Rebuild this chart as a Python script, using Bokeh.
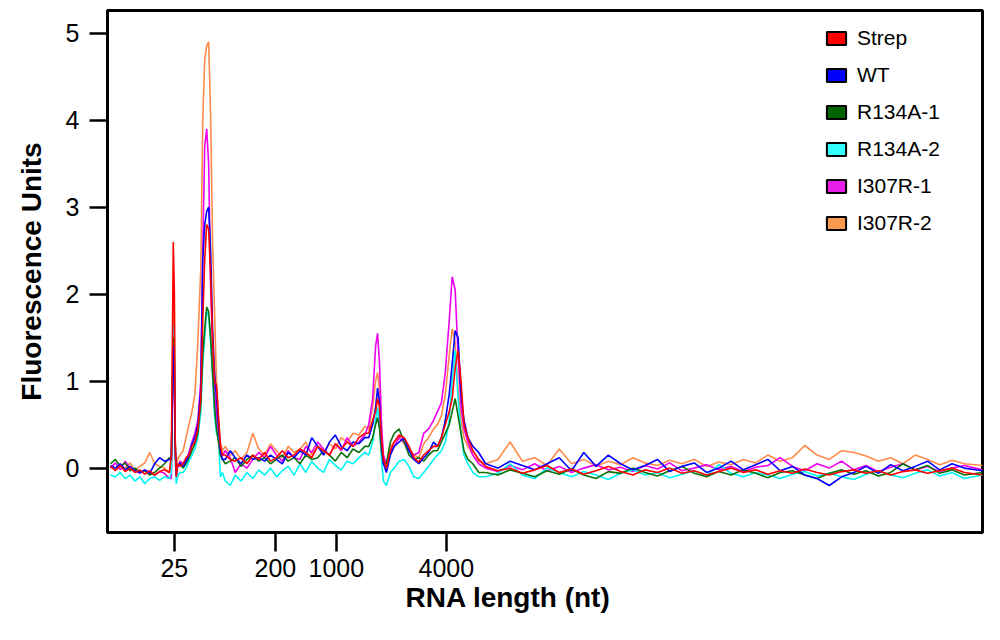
from bokeh.plotting import figure
from bokeh.models import Range1d, FixedTicker, Legend, LegendItem, Title
from bokeh.embed import file_html
from bokeh.resources import INLINE

# migration time (arbitrary units)
time_s = [
    0.3, 0.8, 1.3, 1.8, 2.3, 2.8, 3.3, 3.8, 4.3, 4.8, 5.3, 5.8, 6.3,
    6.5, 6.7, 6.8, 6.9, 7.0, 7.1, 7.2, 7.4,
    7.7, 8.0, 8.3, 8.6, 8.9, 9.2, 9.5, 9.7,
    9.9, 10.1, 10.3, 10.5, 10.7, 10.9, 11.1, 11.3, 11.5, 11.7,
    12.0, 12.5, 13.0, 13.6, 14.2, 14.8, 15.4, 16.0, 16.6, 17.2, 17.8, 18.4, 19.0,
    19.6, 20.2, 20.8, 21.4, 22.0, 22.6, 23.2, 23.8, 24.4, 25.0, 25.6, 26.2,
    26.6, 27.0, 27.3, 27.5, 27.7, 27.9, 28.1, 28.4, 28.8,
    29.2, 29.7, 30.2, 30.7, 31.2, 31.7, 32.2, 32.7, 33.2,
    33.6, 34.0, 34.4, 34.8, 35.1, 35.4, 35.7, 36.0, 36.3, 36.7, 37.2, 37.8,
    38.5, 39.75, 41.0, 42.25, 43.5, 44.75, 46.0, 47.25, 48.5, 49.75,
    51.0, 52.25, 53.5, 54.75, 56.0, 57.25, 58.5, 59.75, 61.0, 62.25,
    63.5, 64.75, 66.0, 67.25, 68.5, 69.75, 71.0, 72.25, 73.5, 74.75,
    76.0, 77.25, 78.5, 79.75, 81.0, 82.25, 83.5, 84.75, 86.0, 87.25, 89.1,
]

strep = [
    0.02, -0.03, 0.03, -0.04, 0.00, -0.05, -0.02, -0.07, -0.03, -0.08, -0.04, -0.02, -0.05,
    0.15, 2.60, 2.05, 0.30, -0.10, 0.02, 0.05, 0.02,
    0.05, 0.12, 0.15, 0.25, 0.30, 0.45, 0.80, 1.70,
    2.40, 2.80, 2.75, 2.20, 1.50, 1.00, 0.95, 0.60, 0.25, 0.15,
    0.15, 0.10, 0.08, 0.12, 0.05, 0.15, 0.10, 0.18, 0.08, 0.12, 0.20, 0.12, 0.15,
    0.22, 0.18, 0.12, 0.25, 0.20, 0.15, 0.28, 0.22, 0.30, 0.25, 0.35, 0.40,
    0.40, 0.55, 0.65, 0.80, 0.70, 0.35, 0.10, 0.00, 0.20,
    0.30, 0.38, 0.35, 0.25, 0.12, 0.07, 0.15, 0.20, 0.25,
    0.25, 0.35, 0.50, 0.65, 0.80, 1.15, 1.35, 1.00, 0.50, 0.35, 0.20, 0.10,
    0.02, -0.03, 0.00, -0.06, -0.02, 0.03, -0.05, -0.01, -0.07, -0.03,
    0.02, -0.04, -0.08, -0.02, -0.05, 0.00, -0.06, -0.03, -0.08, -0.04,
    0.00, -0.05, -0.02, -0.07, -0.03, -0.06, -0.01, -0.05, -0.08, -0.04,
    -0.02, -0.06, -0.03, -0.08, -0.04, -0.02, -0.06, -0.03, 0.00, -0.05, -0.08,
]

wt = [
    0.03, 0.00, 0.05, -0.02, 0.02, -0.03, -0.05, -0.02, -0.06, 0.05, 0.12, 0.08, 0.10,
    0.10, 1.40, 1.20, 0.25, -0.08, 0.00, 0.03, 0.06,
    0.02, 0.08, 0.15, 0.28, 0.35, 0.50, 0.90, 2.40,
    2.80, 2.95, 3.00, 2.50, 1.60, 1.10, 0.80, 0.50, 0.20, 0.10,
    0.10, 0.20, 0.12, 0.05, 0.15, 0.10, 0.12, 0.08, 0.15, 0.10, 0.05, 0.18, 0.12,
    0.20, 0.15, 0.35, 0.25, 0.15, 0.30, 0.38, 0.25, 0.20, 0.30, 0.28, 0.35,
    0.35, 0.50, 0.70, 0.92, 0.75, 0.30, 0.05, -0.05, 0.15,
    0.25, 0.30, 0.35, 0.20, 0.10, 0.05, 0.12, 0.18, 0.30,
    0.25, 0.35, 0.55, 0.85, 1.20, 1.58, 1.50, 0.85, 0.55, 0.35, 0.25, 0.18,
    0.05, 0.00, 0.08, 0.03, -0.02, 0.05, 0.12, -0.03, 0.18, 0.02,
    0.15, 0.05, -0.02, 0.03, 0.10, -0.04, 0.02, 0.06, -0.05, 0.00,
    0.08, -0.02, 0.04, 0.10, -0.03, 0.02, -0.08, -0.12, -0.20, -0.10,
    -0.05, 0.02, -0.06, 0.04, -0.03, 0.02, 0.08, -0.02, 0.05, 0.00, -0.03,
]

r134a_1 = [
    0.05, 0.10, 0.02, 0.06, -0.03, 0.00, -0.05, -0.03, -0.08, -0.05, 0.00, 0.05, 0.12,
    0.10, 1.50, 1.30, 0.20, -0.05, 0.02, 0.04, 0.05,
    0.00, 0.05, 0.12, 0.20, 0.28, 0.40, 0.75, 1.30,
    1.60, 1.85, 1.80, 1.50, 1.10, 0.70, 0.45, 0.30, 0.15, 0.10,
    0.05, 0.08, 0.12, 0.02, 0.10, 0.15, 0.08, 0.12, 0.05, 0.10, 0.15, 0.08, 0.12,
    0.05, 0.15, 0.10, 0.12, 0.20, 0.15, 0.08, 0.18, 0.12, 0.22, 0.18, 0.25,
    0.25, 0.35, 0.50, 0.58, 0.45, 0.20, 0.05, 0.05, 0.30,
    0.40, 0.45, 0.30, 0.15, 0.10, 0.12, 0.08, 0.15, 0.20,
    0.20, 0.30, 0.40, 0.50, 0.65, 0.80, 0.60, 0.40, 0.20, 0.10, 0.05, -0.05,
    -0.05, -0.08, -0.02, -0.06, -0.10, -0.03, -0.07, -0.01, -0.08, -0.12,
    -0.04, -0.06, 0.00, -0.05, -0.09, -0.03, 0.02, -0.06, -0.10, -0.04,
    -0.08, -0.02, -0.06, -0.11, -0.05, -0.03, -0.08, -0.12, -0.06, -0.02,
    -0.07, -0.03, -0.09, -0.05, 0.05, -0.02, 0.03, -0.06, -0.02, -0.08, -0.05,
]

r134a_2 = [
    -0.08, -0.10, -0.05, -0.12, -0.08, -0.15, -0.10, -0.18, -0.12, -0.10, -0.14, -0.10, -0.12,
    -0.05, 1.65, 1.55, 0.10, -0.18, -0.12, -0.08, -0.05,
    -0.05, 0.00, 0.08, 0.15, 0.22, 0.35, 0.65, 1.20,
    1.50, 1.80, 1.75, 1.45, 1.05, 0.60, 0.40, 0.35, -0.10, -0.05,
    -0.15, -0.20, -0.08, -0.15, -0.05, -0.12, -0.02, -0.08, 0.00, -0.10, -0.03, 0.02, -0.08,
    0.05, -0.05, 0.08, 0.00, -0.05, 0.10, 0.03, -0.02, 0.08, 0.05, 0.12, 0.18,
    0.15, 0.30, 0.55, 0.70, 0.50, 0.10, -0.15, -0.20, -0.05,
    0.00, 0.08, 0.10, 0.02, -0.10, -0.12, -0.05, 0.02, 0.10,
    0.15, 0.20, 0.30, 0.55, 1.00, 1.35, 0.80, 0.40, 0.15, 0.05, -0.05, -0.10,
    -0.10, -0.06, 0.05, -0.08, -0.12, 0.00, -0.05, -0.10, -0.04, -0.08,
    -0.13, -0.06, -0.02, -0.08, -0.05, -0.11, -0.07, -0.03, -0.09, 0.04,
    -0.06, -0.10, -0.05, -0.08, -0.12, -0.07, -0.04, -0.09, -0.06, -0.10,
    -0.13, -0.07, -0.03, -0.08, -0.11, -0.06, -0.02, -0.09, -0.05, -0.12, -0.08,
]

i307r_1 = [
    0.00, 0.06, -0.02, 0.08, 0.00, -0.03, -0.06, -0.02, -0.05, -0.08, -0.04, -0.06, -0.12,
    -0.12, 1.30, 1.10, 0.15, -0.10, 0.00, 0.04, 0.08,
    0.05, 0.10, 0.18, 0.30, 0.40, 0.55, 1.00, 2.50,
    3.70, 3.90, 3.50, 2.10, 1.40, 0.90, 0.60, 0.40, 0.20, 0.15,
    0.20, 0.12, -0.05, 0.05, 0.00, 0.10, 0.18, 0.12, 0.25, 0.15, 0.08, 0.20, 0.12,
    0.10, 0.25, 0.18, 0.30, 0.22, 0.15, 0.28, 0.20, 0.35, 0.25, 0.30, 0.38,
    0.50, 0.80, 1.40, 1.55, 1.20, 0.50, 0.15, 0.05, 0.20,
    0.25, 0.35, 0.30, 0.20, 0.15, 0.18, 0.40, 0.45, 0.55,
    0.65, 0.75, 1.10, 1.70, 2.20, 2.05, 1.30, 0.70, 0.45, 0.30, 0.15, 0.05,
    0.00, -0.04, 0.03, -0.02, 0.05, -0.03, 0.02, -0.05, 0.00, 0.04,
    -0.02, 0.01, -0.04, 0.03, -0.01, 0.06, -0.03, 0.00, 0.04, -0.02,
    0.02, -0.04, 0.01, 0.03, 0.12, 0.02, -0.03, 0.05, 0.00, 0.08,
    -0.02, 0.03, -0.04, 0.01, 0.05, -0.02, 0.02, -0.04, 0.00, 0.03, -0.02,
]

i307r_2 = [
    0.02, -0.02, 0.04, 0.00, 0.06, -0.02, 0.02, 0.06, 0.18, 0.05, 0.02, 0.00, -0.05,
    0.05, 1.90, 2.05, 0.35, -0.05, 0.08, 0.12, 0.15,
    0.20, 0.35, 0.50, 0.65, 0.85, 1.45, 2.30, 4.00,
    4.70, 4.85, 4.90, 4.05, 2.60, 1.80, 1.00, 0.55, 0.30, 0.20,
    0.25, 0.15, 0.20, 0.10, 0.18, 0.40, 0.22, 0.15, 0.28, 0.20, 0.12, 0.25, 0.18,
    0.22, 0.30, 0.15, 0.25, 0.18, 0.28, 0.22, 0.35, 0.30, 0.40, 0.38, 0.48,
    0.45, 0.70, 1.00, 1.10, 0.90, 0.40, 0.12, 0.05, 0.25,
    0.30, 0.35, 0.28, 0.22, 0.15, 0.12, 0.28, 0.35, 0.45,
    0.50, 0.60, 0.85, 1.30, 1.60, 1.45, 0.90, 0.55, 0.35, 0.25, 0.15, 0.08,
    0.05, 0.10, 0.30, 0.08, 0.12, 0.03, 0.22, 0.05, 0.10, 0.02,
    0.08, 0.04, 0.12, 0.06, 0.03, 0.09, 0.05, 0.10, 0.02, 0.07,
    0.04, 0.10, 0.06, 0.15, 0.08, 0.12, 0.26, 0.15, 0.10, 0.20,
    0.18, 0.14, 0.08, 0.12, 0.05, 0.15, 0.10, 0.04, 0.09, 0.05, 0.03,
]

names = ["Strep", "WT", "R134A-1", "R134A-2", "I307R-1", "I307R-2"]
series = [strep, wt, r134a_1, r134a_2, i307r_1, i307r_2]
line_colors = ["#ff0000", "#0000ff", "#0c720c", "#00f5f5", "#f000f0", "#ff8a4a"]
swatch_colors = ["#ff0000", "#0000ff", "#006400", "#33ffff", "#e81ee8", "#f79a4f"]

tick_pos = [6.8, 17.1, 23.3, 34.5]
tick_labels = ["25", "200", "1000", "4000"]
y_ticks = [0, 1, 2, 3, 4, 5]

FONT = "Liberation Sans"

p = figure(width=984, height=624, output_backend="svg", toolbar_location=None,
           x_range=Range1d(0, 89.1), y_range=Range1d(-0.74, 5.26),
           min_border_left=107, min_border_right=2, min_border_top=10,
           min_border_bottom=92, title=None)

p.background_fill_color = "white"
p.border_fill_color = "white"
p.outline_line_color = "black"
p.outline_line_width = 3
p.outline_line_alpha = 1.0
p.xgrid.visible = False
p.ygrid.visible = False

for ax in (p.xaxis, p.yaxis):
    ax.axis_line_width = 3
    ax.axis_line_color = "black"
    ax.major_tick_line_width = 2.5
    ax.major_tick_line_color = "black"
    ax.major_tick_in = 0
    ax.minor_tick_line_color = None
    ax.major_label_text_font = FONT
    ax.major_label_text_font_size = "25px"
    ax.major_label_text_color = "black"

p.xaxis.ticker = FixedTicker(ticks=tick_pos)
p.xaxis.major_label_overrides = dict(zip(tick_pos, tick_labels))
p.xaxis.major_tick_out = 19
p.xaxis.major_label_standoff = 7

p.yaxis.ticker = FixedTicker(ticks=y_ticks)
p.yaxis.major_tick_out = 18
p.yaxis.major_label_standoff = 10
p.yaxis.axis_label = "Fluorescence Units"
p.yaxis.axis_label_text_font = FONT
p.yaxis.axis_label_text_font_style = "bold"
p.yaxis.axis_label_text_font_size = "28px"
p.yaxis.axis_label_text_color = "black"
p.yaxis.axis_label_standoff = 16

xlabel = Title(text="RNA length (nt)", align="left", offset=298,
               text_font=FONT, text_font_style="bold", text_font_size="28px",
               text_color="black", standoff=0)
p.add_layout(xlabel, "below")

# legend swatch renderers: a degenerate (zero-size) box at the first sample,
# drawn underneath the traces; they only serve as legend glyphs
items = []
for n, c in zip(names, swatch_colors):
    r = p.quad(left=[time_s[0]], right=[time_s[0]], bottom=[0], top=[0],
               fill_color=c, line_color="black", line_width=2)
    items.append(LegendItem(label=n, renderers=[r]))

# draw lines: last legend entry at the bottom, Strep on top
for y, c in reversed(list(zip(series, line_colors))):
    p.line(time_s, y, line_color=c, line_width=1.6)

legend = Legend(items=items, location=(717, 297), orientation="vertical",
                glyph_width=24, glyph_height=16, label_height=24, spacing=13,
                padding=0, margin=0, border_line_color=None,
                background_fill_alpha=0, label_standoff=9,
                label_text_font=FONT, label_text_font_size="21px",
                label_text_color="black")
p.add_layout(legend)

open("out.html", "w").write(file_html(p, INLINE))
